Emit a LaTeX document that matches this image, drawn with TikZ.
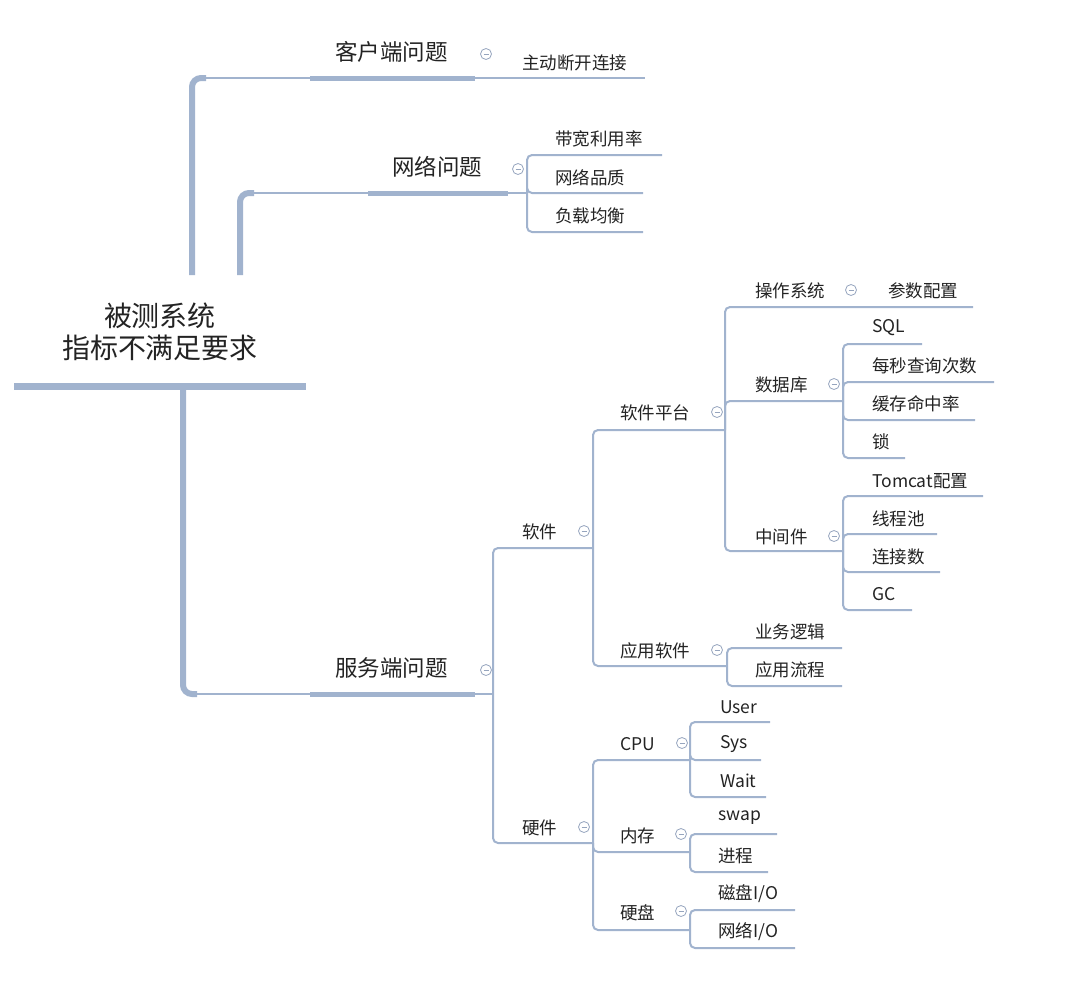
\documentclass[tikz,border=0pt]{standalone}
\usepackage{fontspec}
\setmainfont{Noto Sans CJK SC}
\definecolor{linkblue}{RGB}{161,179,206}
\definecolor{labelgray}{RGB}{35,35,35}
\definecolor{knobgray}{RGB}{150,165,190}
\begin{document}
\begin{tikzpicture}[x=1pt, y=-1pt,
    root/.style={align=center, inner sep=0pt, font=\fontsize{28}{32}\selectfont, text=labelgray},
    topic/.style={anchor=west, inner sep=0pt, font=\fontsize{22.5}{26}\selectfont, text=labelgray},
    item/.style={anchor=west, inner sep=0pt, font=\fontsize{17.5}{20}\selectfont, text=labelgray},
    knob/.style={circle, draw=knobgray, line width=0.8pt, minimum size=11pt, inner sep=0pt,
        path picture={\draw[knobgray, line width=0.8pt]
            ([xshift=-2.5pt]path picture bounding box.center) -- ([xshift=2.5pt]path picture bounding box.center);}},
    link/.style={draw=linkblue, line width=2pt, rounded corners=5pt},
    bar/.style={draw=linkblue, line width=5pt},
    trunk/.style={draw=linkblue, line width=6pt, rounded corners=9pt}
]
\useasboundingbox (0,0) rectangle (1080,989);

% root
\node[root] (sut) at (160,332) {被测系统\\指标不满足要求};
\coordinate (rootL) at (14,386);
\coordinate (rootR) at (306,386);
\draw[trunk, line width=7pt] (rootL) -- (rootR);

% client side
\node[topic] (client) at (335,52) {客户端问题};
\node[knob] (clientK) at (486,54) {};
\node[item] (clientA) at (522,63) {主动断开连接};
\coordinate (cliBase) at (192,275);
\coordinate (cliTurn) at (206,78);
\coordinate (cliBarL) at (310,78);
\coordinate (cliBarR) at (475,78);
\coordinate (cliEnd) at (645,78);
\draw[trunk] (cliBase) |- (cliTurn);
\draw[link] (cliTurn) -- (cliBarL);
\draw[bar] (cliBarL) -- (cliBarR);
\draw[link] (cliBarR) -- (cliEnd);

% network
\node[topic] (net) at (392,167) {网络问题};
\node[knob] (netK) at (518,169) {};
\node[item] (netA) at (555,139) {带宽利用率};
\node[item] (netB) at (555,178) {网络品质};
\node[item] (netC) at (555,216) {负载均衡};
\coordinate (netBase) at (240,275);
\coordinate (netTurn) at (254,193);
\coordinate (netBarL) at (368,193);
\coordinate (netBarR) at (508,193);
\coordinate (netFork) at (527,193);
\coordinate (netAE) at (662,155);
\coordinate (netBE) at (643,193);
\coordinate (netCE) at (643,232);
\draw[trunk] (netBase) |- (netTurn);
\draw[link] (netTurn) -- (netBarL);
\draw[bar] (netBarL) -- (netBarR);
\draw[link] (netBarR) -- (netFork);
\draw[link] (netFork) |- (netAE);
\draw[link] (netFork) |- (netBE);
\draw[link] (netFork) |- (netCE);

% server side
\node[topic] (server) at (335,668) {服务端问题};
\node[knob] (serverK) at (486,670) {};
\coordinate (srvBase) at (183,389);
\coordinate (srvTurn) at (197,694);
\coordinate (srvBarL) at (310,694);
\coordinate (srvBarR) at (475,694);
\coordinate (srvFork) at (493,694);
\draw[trunk] (srvBase) |- (srvTurn);
\draw[link] (srvTurn) -- (srvBarL);
\draw[bar] (srvBarL) -- (srvBarR);
\draw[link] (srvBarR) -- (srvFork);

% software
\node[item] (soft) at (522,532) {软件};
\node[knob] (softK) at (584,531) {};
\coordinate (softFork) at (593,548);
\draw[link] (srvFork) |- (softFork);

\node[item] (plat) at (620,413) {软件平台};
\node[knob] (platK) at (717,412) {};
\coordinate (platFork) at (725,430);
\draw[link] (softFork) |- (platFork);

\node[item] (os) at (755,291) {操作系统};
\node[knob] (osK) at (851,290) {};
\node[item] (osA) at (888,291) {参数配置};
\coordinate (osEnd) at (973,307);
\draw[link] (platFork) |- (osEnd);

\node[item] (db) at (755,385) {数据库};
\node[knob] (dbK) at (834,384) {};
\coordinate (dbFork) at (843,401);
\draw[link] (platFork) |- (dbFork);
\node[item] (dbA) at (872,328) {SQL};
\node[item] (dbB) at (872,366) {每秒查询次数};
\node[item] (dbC) at (872,404) {缓存命中率};
\node[item] (dbD) at (872,442) {锁};
\coordinate (dbAE) at (922,344);
\coordinate (dbBE) at (994,382);
\coordinate (dbCE) at (975,420);
\coordinate (dbDE) at (905,458);
\draw[link] (dbFork) |- (dbAE);
\draw[link] (dbFork) |- (dbBE);
\draw[link] (dbFork) |- (dbCE);
\draw[link] (dbFork) |- (dbDE);

\node[item] (mw) at (755,537) {中间件};
\node[knob] (mwK) at (834,536) {};
\coordinate (mwFork) at (843,551);
\draw[link] (platFork) |- (mwFork);
\node[item] (mwA) at (872,481) {Tomcat配置};
\node[item] (mwB) at (872,519) {线程池};
\node[item] (mwC) at (872,557) {连接数};
\node[item] (mwD) at (872,594) {GC};
\coordinate (mwAE) at (983,496);
\coordinate (mwBE) at (937,534);
\coordinate (mwCE) at (940,572);
\coordinate (mwDE) at (912,610);
\draw[link] (mwFork) |- (mwAE);
\draw[link] (mwFork) |- (mwBE);
\draw[link] (mwFork) |- (mwCE);
\draw[link] (mwFork) |- (mwDE);

\node[item] (app) at (620,651) {应用软件};
\node[knob] (appK) at (717,650) {};
\coordinate (appFork) at (727,666);
\draw[link] (softFork) |- (appFork);
\node[item] (appA) at (755,632) {业务逻辑};
\node[item] (appB) at (755,670) {应用流程};
\coordinate (appAE) at (842,648);
\coordinate (appBE) at (842,686);
\draw[link] (appFork) |- (appAE);
\draw[link] (appFork) |- (appBE);

% hardware
\node[item] (hw) at (522,828) {硬件};
\node[knob] (hwK) at (584,827) {};
\coordinate (hwFork) at (593,843);
\draw[link] (srvFork) |- (hwFork);

\node[item] (cpu) at (620,744) {CPU};
\node[knob] (cpuK) at (682,743) {};
\coordinate (cpuFork) at (690,760);
\draw[link] (hwFork) |- (cpuFork);
\node[item] (cpuA) at (720,707) {User};
\node[item] (cpuB) at (720,744) {Sys};
\node[item] (cpuC) at (720,781) {Wait};
\coordinate (cpuAE) at (770,722);
\coordinate (cpuBE) at (761,760);
\coordinate (cpuCE) at (766,797);
\draw[link] (cpuFork) |- (cpuAE);
\draw[link] (cpuFork) |- (cpuBE);
\draw[link] (cpuFork) |- (cpuCE);

\node[item] (mem) at (620,836) {内存};
\node[knob] (memK) at (681,834) {};
\coordinate (memFork) at (690,852);
\draw[link] (hwFork) |- (memFork);
\node[item] (memA) at (718,818) {swap};
\node[item] (memB) at (718,856) {进程};
\coordinate (memAE) at (777,834);
\coordinate (memBE) at (768,872);
\draw[link] (memFork) |- (memAE);
\draw[link] (memFork) |- (memBE);

\node[item] (disk) at (620,913) {硬盘};
\node[knob] (diskK) at (681,911) {};
\coordinate (diskFork) at (690,930);
\draw[link] (hwFork) |- (diskFork);
\node[item] (diskA) at (718,894) {磁盘I/O};
\node[item] (diskB) at (718,932) {网络I/O};
\coordinate (diskAE) at (795,910);
\coordinate (diskBE) at (795,948);
\draw[link] (diskFork) |- (diskAE);
\draw[link] (diskFork) |- (diskBE);
\end{tikzpicture}
\end{document}
